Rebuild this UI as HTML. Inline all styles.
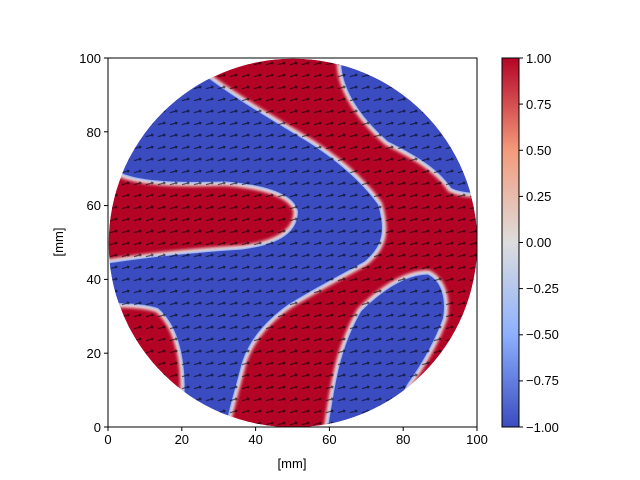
<!DOCTYPE html>
<html><head><meta charset="utf-8"><style>body{margin:0;background:#fff}svg{display:block}text{font-family:"Liberation Sans",sans-serif;font-size:13px;fill:#000}</style></head><body>
<svg width="640" height="480" viewBox="0 0 640 480" xmlns="http://www.w3.org/2000/svg">
<defs>
<clipPath id="cc"><circle cx="555" cy="555" r="553"/></clipPath>
<filter id="bl" x="-10%" y="-10%" width="120%" height="120%"><feGaussianBlur stdDeviation="5"/></filter>
<filter id="bl2" x="-10%" y="-10%" width="120%" height="120%"><feGaussianBlur stdDeviation="3"/></filter>
<linearGradient id="cb" x1="0" y1="1" x2="0" y2="0">
<stop offset="0" stop-color="#3b4cc0"/><stop offset="0.25" stop-color="#8db0fe"/><stop offset="0.5" stop-color="#dddddd"/><stop offset="0.75" stop-color="#f49a7b"/><stop offset="1" stop-color="#b40426"/>
</linearGradient>
<pattern id="ar" width="36" height="36" patternUnits="userSpaceOnUse"><path d="M6,20 L28,14 M28,14 l-7,-2 M28,14 l-5,5" stroke="#000" stroke-width="3.5" fill="none" opacity="0.6"/></pattern>
<g id="blues">
<path d="M40,340 L120,200 L200,120 L300,60 C380,120 480,180 580,240 C680,300 760,370 810,440 C830,510 830,560 770,610 C700,650 620,690 540,740 C470,790 420,850 400,920 C380,1000 365,1040 350,1120 L230,1120 L230,1000 C232,900 210,800 150,750 C100,735 50,735 -20,735 L-20,620 C100,600 250,585 400,575 C520,560 570,520 570,460 C560,410 480,380 350,370 C200,375 100,370 40,345 Z"/>
<path d="M700,-20 L700,20 C705,100 760,180 840,250 C920,290 990,330 1030,390 C1060,405 1100,405 1150,405 L1150,-20 Z"/>
<path d="M655,1150 L665,1080 C680,1000 690,880 760,760 C830,690 900,650 960,650 C1000,670 1015,720 1005,780 C980,850 940,920 900,975 C880,1010 860,1050 840,1150 Z"/>
</g>
</defs>
<rect x="108" y="58" width="369" height="369" fill="#fff"/>
<g transform="translate(108,58) scale(0.3333)">
<g clip-path="url(#cc)">
<circle cx="555" cy="555" r="553" fill="#b40426"/>
<use href="#blues" fill="none" stroke="#f2e4de" stroke-width="26" filter="url(#bl)"/>
<use href="#blues" fill="#3b4cc0" stroke="#8aaaf8" stroke-width="8" filter="url(#bl2)"/>
<use href="#blues" fill="#3b4cc0"/>
<rect x="0" y="0" width="1110" height="1110" fill="url(#ar)"/>
</g>
</g>
<rect x="108" y="58" width="369" height="369" fill="none" stroke="#000" stroke-width="1"/>
<g stroke="#000" stroke-width="1">
<line x1="108" y1="427" x2="108" y2="431"/><line x1="181.8" y1="427" x2="181.8" y2="431"/><line x1="255.6" y1="427" x2="255.6" y2="431"/><line x1="329.4" y1="427" x2="329.4" y2="431"/><line x1="403.2" y1="427" x2="403.2" y2="431"/><line x1="477" y1="427" x2="477" y2="431"/>
<line x1="104" y1="427" x2="108" y2="427"/><line x1="104" y1="353.2" x2="108" y2="353.2"/><line x1="104" y1="279.4" x2="108" y2="279.4"/><line x1="104" y1="205.6" x2="108" y2="205.6"/><line x1="104" y1="131.8" x2="108" y2="131.8"/><line x1="104" y1="58" x2="108" y2="58"/>
</g>
<g text-anchor="middle">
<text x="108" y="444">0</text><text x="181.8" y="444">20</text><text x="255.6" y="444">40</text><text x="329.4" y="444">60</text><text x="403.2" y="444">80</text><text x="477" y="444">100</text>
<text x="292" y="468">[mm]</text>
</g>
<g text-anchor="end">
<text x="101" y="432">0</text><text x="101" y="358">20</text><text x="101" y="284">40</text><text x="101" y="210">60</text><text x="101" y="137">80</text><text x="101" y="63">100</text>
</g>
<text x="63" y="242" text-anchor="middle" transform="rotate(-90 63 242)">[mm]</text>
<rect x="502" y="58" width="17" height="369" fill="url(#cb)" stroke="#000" stroke-width="1"/>
<g stroke="#000"><line x1="519" y1="58" x2="523" y2="58"/><line x1="519" y1="104.1" x2="523" y2="104.1"/><line x1="519" y1="150.3" x2="523" y2="150.3"/><line x1="519" y1="196.4" x2="523" y2="196.4"/><line x1="519" y1="242.5" x2="523" y2="242.5"/><line x1="519" y1="288.6" x2="523" y2="288.6"/><line x1="519" y1="334.8" x2="523" y2="334.8"/><line x1="519" y1="380.9" x2="523" y2="380.9"/><line x1="519" y1="427" x2="523" y2="427"/></g>
<g>
<text x="526" y="63">1.00</text><text x="526" y="109">0.75</text><text x="526" y="155">0.50</text><text x="526" y="201">0.25</text><text x="526" y="247">0.00</text><text x="526" y="293">−0.25</text><text x="526" y="339">−0.50</text><text x="526" y="385">−0.75</text><text x="526" y="432">−1.00</text>
</g>
</svg>
</body></html>
